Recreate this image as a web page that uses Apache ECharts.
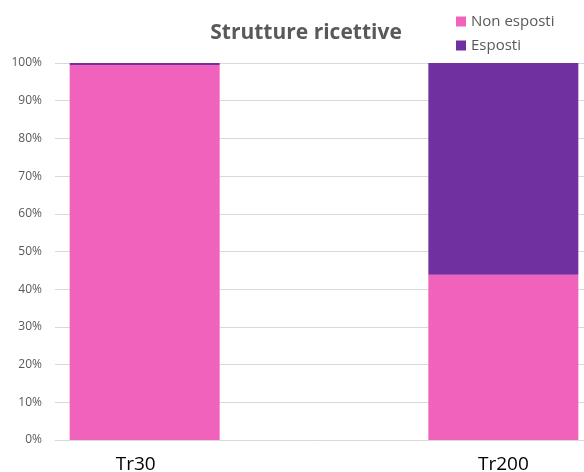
<!DOCTYPE html>
<html>
<head>
<meta charset="utf-8">
<script src="https://cdn.jsdelivr.net/npm/echarts@6/dist/echarts.min.js"></script>
<style>
  html, body { margin: 0; padding: 0; background: #fff; }
  #chart { width: 584px; height: 472px; }
</style>
</head>
<body>
<div id="chart"></div>
<script>
var categories = ['Tr30', '', 'Tr200'];
var nonEsposti = [99.5, null, 43.8];
var esposti = [0.5, null, 56.2];
var yTicks = [0, 10, 20, 30, 40, 50, 60, 70, 80, 90, 100];

var chart = echarts.init(document.getElementById('chart'));

var option = {
  animation: false,
  title: {
    text: 'Strutture ricettive',
    left: 301,
    textAlign: 'center',
    top: 18,
    textStyle: {
      fontFamily: 'Open Sans',
      fontWeight: 'bold',
      fontSize: 21,
      color: '#595959'
    }
  },
  legend: {
    orient: 'vertical',
    left: 451,
    top: 9,
    itemWidth: 10,
    itemHeight: 10,
    itemGap: 9,
    icon: 'rect',
    textStyle: {
      fontFamily: 'Open Sans',
      fontSize: 15,
      color: '#595959',
      padding: [0, 0, 0, 0]
    },
    data: ['Non esposti', 'Esposti']
  },
  grid: {
    left: 55,
    width: 538,
    top: 63,
    bottom: 32,
    outerBoundsMode: 'none'
  },
  xAxis: {
    type: 'category',
    data: categories.map(function (c, i) {
      return i === 0 ? { value: c, textStyle: { padding: [0, 18, 0, 0] } } : c;
    }),
    axisLine: { show: true, lineStyle: { color: '#d9d9d9' } },
    axisTick: { show: false },
    axisLabel: {
      fontFamily: 'Open Sans',
      fontSize: 19,
      color: '#000',
      margin: 15,
      interval: 0
    }
  },
  yAxis: {
    type: 'value',
    min: yTicks[0],
    max: yTicks[yTicks.length - 1],
    interval: 10,
    axisLine: { show: false },
    axisTick: { show: false },
    splitLine: { lineStyle: { color: '#d9d9d9' } },
    axisLabel: {
      formatter: '{value}%',
      fontFamily: 'Open Sans',
      fontSize: 12,
      color: '#595959',
      margin: 13
    }
  },
  series: [
    {
      name: 'Non esposti',
      type: 'bar',
      stack: 'tot',
      barWidth: 150,
      itemStyle: { color: '#F062BB' },
      data: nonEsposti
    },
    {
      name: 'Esposti',
      type: 'bar',
      stack: 'tot',
      barWidth: 150,
      itemStyle: { color: '#7030A0' },
      data: esposti
    }
  ]
};

chart.setOption(option);
</script>
</body>
</html>
